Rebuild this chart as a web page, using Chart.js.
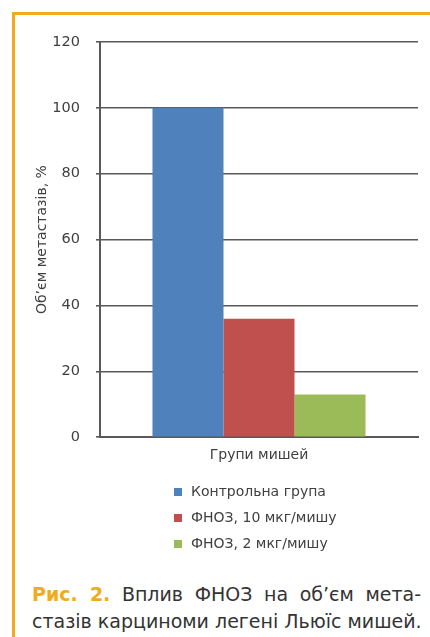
<!DOCTYPE html>
<html>
<head>
<meta charset="utf-8">
<script src="https://cdn.jsdelivr.net/npm/chart.js@4/dist/chart.umd.min.js"></script>
<style>
  html, body { margin: 0; padding: 0; background: #fff; }
  body { width: 430px; height: 637px; position: relative; overflow: hidden; }
  #frame {
    position: absolute; left: 12px; top: 12px; width: 430px; height: 640px;
    border-left: 3px solid #F0AC1C; border-top: 3px solid #F0AC1C; box-sizing: border-box;
  }
  #wrap { position: absolute; left: 0; top: 0; width: 430px; height: 565px; }
  #caption {
    position: absolute; left: 32px; top: 581px; width: 389px;
    font-family: "DejaVu Sans", sans-serif; font-size: 19px; line-height: 27px; color: #333;
  }
  #caption .line { text-align: justify; text-align-last: justify; white-space: nowrap; }
  #caption b { color: #F0AC1C; }
</style>
</head>
<body>
<div id="frame"></div>
<div id="wrap"><canvas id="c" width="430" height="565"></canvas></div>
<div id="caption">
  <div class="line"><b>Рис. 2.</b> Вплив ФНОЗ на об’єм мета-</div>
  <div class="line">стазів карциноми легені Льюїс мишей.</div>
</div>
<script>
// Chart data
const categories = ['Групи мишей'];
const seriesNames = ['Контрольна група', 'ФНОЗ, 10 мкг/мишу', 'ФНОЗ, 2 мкг/мишу'];
const controlValues = [100];
const fnoz10Values = [36];
const fnoz2Values = [13];
const seriesColors = ['#4F81BD', '#C0504D', '#9BBB59'];
const yMin = 0, yMax = 120, yStep = 20;
const yTitle = 'Об’єм метастазів, %';

const axisColor = '#595959';
const textColor = '#404040';
const FONT = '"DejaVu Sans", sans-serif';

// Vertical legend drawn under the x axis, one entry per row
const stackedLegend = {
  id: 'stackedLegend',
  afterDraw(chart) {
    const ctx = chart.ctx;
    const xs = chart.scales.x;
    const top = xs.bottom + 26;
    ctx.save();
    ctx.font = '14px ' + FONT;
    ctx.textBaseline = 'middle';
    ctx.textAlign = 'left';
    chart.data.datasets.forEach((ds, i) => {
      const cy = top + i * 26;
      ctx.fillStyle = ds.backgroundColor;
      ctx.fillRect(174, cy - 4, 8, 8);
      ctx.fillStyle = textColor;
      ctx.fillText(ds.label, 191, cy);
    });
    ctx.restore();
  }
};

new Chart(document.getElementById('c'), {
  type: 'bar',
  data: {
    labels: categories,
    datasets: [
      { label: seriesNames[0], data: controlValues, backgroundColor: seriesColors[0] },
      { label: seriesNames[1], data: fnoz10Values, backgroundColor: seriesColors[1] },
      { label: seriesNames[2], data: fnoz2Values, backgroundColor: seriesColors[2] }
    ]
  },
  options: {
    responsive: false,
    animation: false,
    devicePixelRatio: 1,
    layout: { padding: { left: 30, right: 12, top: 42, bottom: 99 } },
    datasets: { bar: { categoryPercentage: 0.67, barPercentage: 1.0 } },
    plugins: { legend: { display: false }, tooltip: { enabled: false } },
    scales: {
      x: {
        z: 1,
        grid: { display: false },
        border: { display: true, color: axisColor, width: 2 },
        ticks: { color: textColor, font: { family: FONT, size: 14 }, padding: 2 }
      },
      y: {
        min: yMin, max: yMax,
        ticks: { stepSize: yStep, color: textColor, font: { family: FONT, size: 14.5 }, padding: 16 },
        grid: { color: axisColor, lineWidth: 1.6, tickLength: 4 },
        border: { display: true, color: axisColor, width: 2 },
        title: { display: true, text: yTitle, color: textColor, font: { family: FONT, size: 14 }, padding: { top: 4, bottom: 0 } },
        afterFit(scale) { scale.width = 70; }
      }
    }
  },
  plugins: [stackedLegend]
});
</script>
</body>
</html>
